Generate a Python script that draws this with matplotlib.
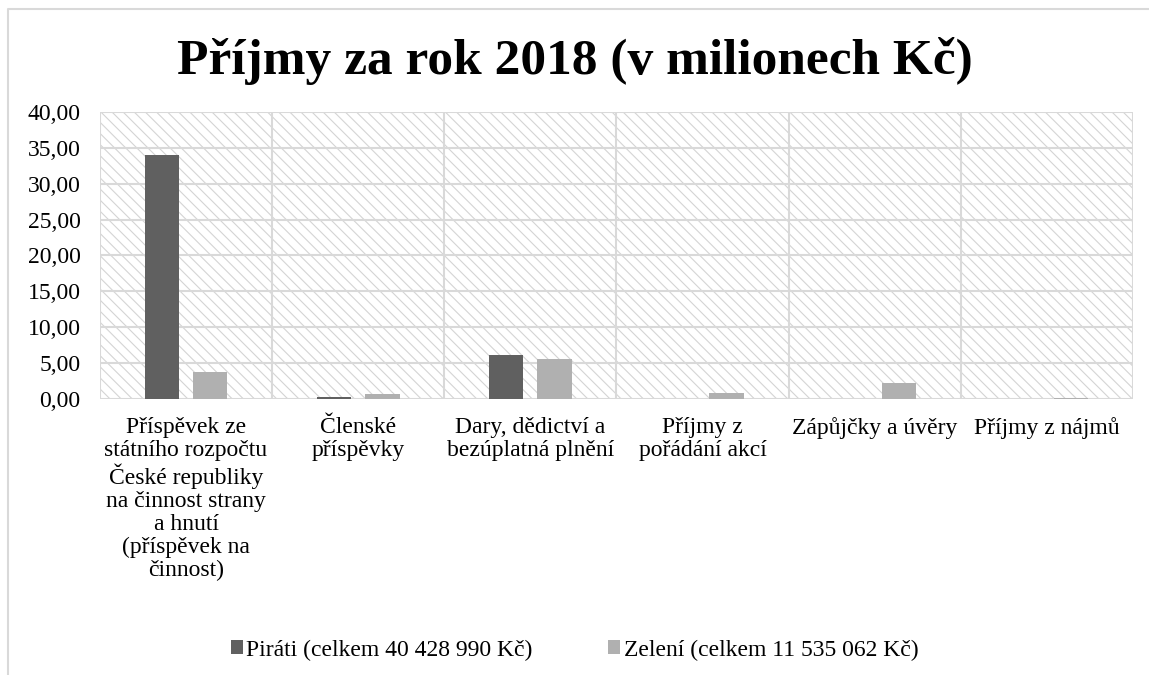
import matplotlib.pyplot as plt
import numpy as np
from matplotlib.lines import Line2D
from matplotlib.patches import Rectangle
from matplotlib.ticker import FuncFormatter, MultipleLocator

# Příjmy v milionech Kč
categories = [
    "Příspěvek ze\nstátního rozpočtu\nČeské republiky\nna činnost strany\na hnutí\n(příspěvek na\nčinnost)",
    "Členské\npříspěvky",
    "Dary, dědictví a\nbezúplatná plnění",
    "Příjmy z\npořádání akcí",
    "Zápůjčky a úvěry",
    "Příjmy z nájmů",
]
pirati = [34.0, 0.25, 6.18, 0.0, 0.0, 0.0]
zeleni = [3.8, 0.7, 5.6, 0.85, 2.2, 0.15]
series_labels = ["Piráti (celkem 40 428 990 Kč)", "Zelení (celkem 11 535 062 Kč)"]
colors = ["#606060", "#b0b0b0"]

plt.rcParams["font.family"] = ["Liberation Serif", "DejaVu Serif"]
plt.rcParams["hatch.linewidth"] = 0.8
plt.rcParams["hatch.color"] = "#d4d4d4"

fig = plt.figure(figsize=(11.49, 6.75), dpi=100)
ax = fig.add_axes([0.087, 0.409, 0.899, 0.425])

x = np.arange(len(categories))
ax.set_xlim(-0.5, len(categories) - 0.5)
ax.set_ylim(0, 40)

# hatched background
ax.add_patch(Rectangle((-0.5, 0), len(categories), 40, facecolor="white",
                       edgecolor="#d4d4d4", hatch="\\\\\\", lw=0, zorder=0))

for y in np.arange(0, 41, 5):
    ax.axhline(y, color="#d9d9d9", lw=1.5, zorder=1)
for b in np.arange(-0.5, len(categories), 1):
    ax.axvline(b, color="#d9d9d9", lw=1.5, zorder=1)

w = 0.2
ax.bar(x - 0.14, pirati, w, color=colors[0], label=series_labels[0], zorder=3)
ax.bar(x + 0.14, zeleni, w, color=colors[1], label=series_labels[1], zorder=3)

ax.yaxis.set_major_locator(MultipleLocator(5))
ax.yaxis.set_major_formatter(FuncFormatter(lambda v, p: f"{v:.2f}".replace(".", ",")))
ax.set_xticks(x)
ax.set_xticklabels(categories, fontsize=17, va="top", linespacing=1.12)
ax.tick_params(axis="both", length=0, colors="black")
ax.tick_params(axis="y", labelsize=17, pad=14)
ax.tick_params(axis="x", pad=13)
for s in ax.spines.values():
    s.set_visible(False)

fig.text(0.5, 0.89, "Příjmy za rok 2018 (v milionech Kč)", ha="center", va="baseline",
         fontsize=37, fontweight="bold")

fig.legend(loc="center", bbox_to_anchor=(0.5, 0.037), ncol=2, frameon=False,
           fontsize=17, handlelength=0.5, handleheight=0.5, handletextpad=0.15,
           columnspacing=3.2)

# chart border: top and left edges only
fig.lines.append(Line2D([0.007, 0.007, 1.0], [0.0, 0.987, 0.987], transform=fig.transFigure,
                        color="#d9d9d9", lw=1.5))

fig.savefig("out.png", dpi=100)
